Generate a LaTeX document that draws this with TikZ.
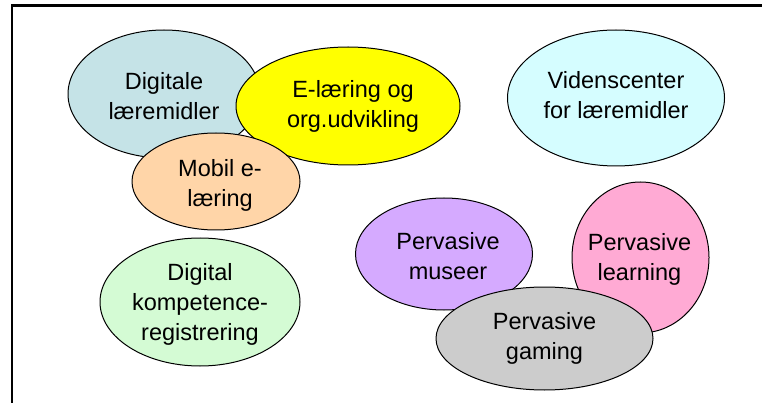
\documentclass[tikz,border=0pt]{standalone}
\usepackage{fontspec}
\setmainfont{Liberation Sans}
\usetikzlibrary{shapes.geometric}
\definecolor{cDig}{HTML}{C5E3E7}
\definecolor{cYel}{HTML}{FFFF00}
\definecolor{cOra}{HTML}{FFD5A8}
\definecolor{cVid}{HTML}{D5FDFF}
\definecolor{cGrn}{HTML}{D4FBD4}
\definecolor{cPur}{HTML}{D5AAFF}
\definecolor{cPnk}{HTML}{FFAAD4}
\definecolor{cGry}{HTML}{CCCCCC}
\tikzset{
  blob/.style={ellipse, draw=black, line width=1pt, inner sep=0pt},
  lbl/.style={align=center, inner sep=0pt, font=\fontsize{23.5}{30}\selectfont, text=black},
  frame/.style={line width=2.5pt, draw=black}
}
\begin{document}
\begin{tikzpicture}[x=1pt, y=-1pt]
\useasboundingbox (0,0) rectangle (762,403);
\fill[white] (0,0) rectangle (762,403);
\coordinate (fTR) at (762,5.5);
\coordinate (fTL) at (12,5.5);
\coordinate (fBL) at (12,403);
\draw[frame] (fTR) -- (fTL) -- (fBL);
% top-left cluster
\node[blob, fill=cDig, minimum width=192pt, minimum height=128pt] (dig) at (164,94) {};
\node[blob, fill=cYel, minimum width=224pt, minimum height=118pt] (yel) at (348,106) {};
\node[blob, fill=cOra, minimum width=168pt, minimum height=97pt] (ora) at (216,181.5) {};
\node[lbl] (digT) at (164,96) {Digitale\\læremidler};
\node[lbl] (yelT) at (353,106) {E-læring og\\org.udvikling};
\node[lbl] (oraT) at (220,185) {Mobil e-\\læring};
% top right
\node[blob, fill=cVid, minimum width=217pt, minimum height=136pt] (vid) at (616,98) {};
\node[lbl] (vidT) at (616,95) {Videnscenter\\for læremidler};
% bottom left
\node[blob, fill=cGrn, minimum width=200pt, minimum height=128pt] (grn) at (200,302) {};
\node[lbl] (grnT) at (200,304) {Digital\\kompetence-\\registrering};
% bottom right cluster
\node[blob, fill=cPur, minimum width=177pt, minimum height=112pt] (pur) at (444,254) {};
\node[blob, fill=cPnk, minimum width=137pt, minimum height=151pt] (pnk) at (640.5,257.5) {};
\node[blob, fill=cGry, minimum width=217pt, minimum height=103pt] (gry) at (544.5,338.5) {};
\node[lbl] (purT) at (448,256) {Pervasive\\museer};
\node[lbl] (pnkT) at (639.5,259) {Pervasive\\learning};
\node[lbl] (gryT) at (544.5,338) {Pervasive\\gaming};
\end{tikzpicture}
\end{document}
